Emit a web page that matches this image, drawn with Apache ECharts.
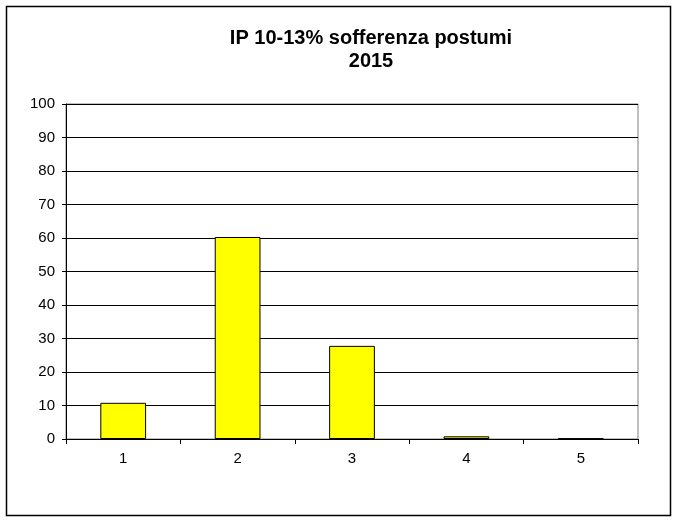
<!DOCTYPE html>
<html>
<head>
<meta charset="utf-8">
<script src="https://cdn.jsdelivr.net/npm/echarts@6/dist/echarts.min.js"></script>
<style>html,body{margin:0;padding:0;background:#fff}#c{width:674px;height:525px}</style>
</head>
<body>
<div id="c"></div>
<script>
var categories = ['1', '2', '3', '4', '5'];
var values = [10.8, 60.3, 27.8, 0.8, 0.2];
var titleText = 'IP 10-13% sofferenza postumi\n2015';

var chart = echarts.init(document.getElementById('c'));
chart.setOption({
  animation: false,
  backgroundColor: '#fff',
  title: {
    text: titleText,
    left: 366, top: 22, textAlign: 'center',
    textStyle: { fontFamily: 'Liberation Sans, Arial, sans-serif', fontSize: 20, fontWeight: 'bold', color: '#000', lineHeight: 23 }
  },
  graphic: [{
    type: 'rect', left: 4, top: 4, z: -1,
    shape: { width: 664, height: 509 },
    style: { fill: 'none', stroke: '#000', lineWidth: 1.5 }
  }],
  grid: { left: 66, right: 36, top: 104, bottom: 86, show: true, borderColor: '#808080', borderWidth: 1, backgroundColor: 'transparent' },
  xAxis: {
    type: 'category', data: categories, boundaryGap: true,
    axisLine: { lineStyle: { color: '#000', width: 1 } },
    axisTick: { show: true, alignWithLabel: false, length: 5, lineStyle: { color: '#000' } },
    axisLabel: { fontFamily: 'Liberation Sans, Arial, sans-serif', fontSize: 15, color: '#000', margin: 12 }
  },
  yAxis: {
    type: 'value', min: 0, max: 100, interval: 10,
    axisLine: { show: true, lineStyle: { color: '#000', width: 1 } },
    axisTick: { show: true, length: 4, lineStyle: { color: '#000' } },
    axisLabel: { fontFamily: 'Liberation Sans, Arial, sans-serif', fontSize: 15, color: '#000', margin: 11 },
    splitLine: { show: true, lineStyle: { color: '#000', width: 1 } }
  },
  series: [{
    type: 'bar', data: values, barWidth: '40%',
    itemStyle: { color: '#FFFF00', borderColor: '#000', borderWidth: 1 }
  }]
});
</script>
</body>
</html>
